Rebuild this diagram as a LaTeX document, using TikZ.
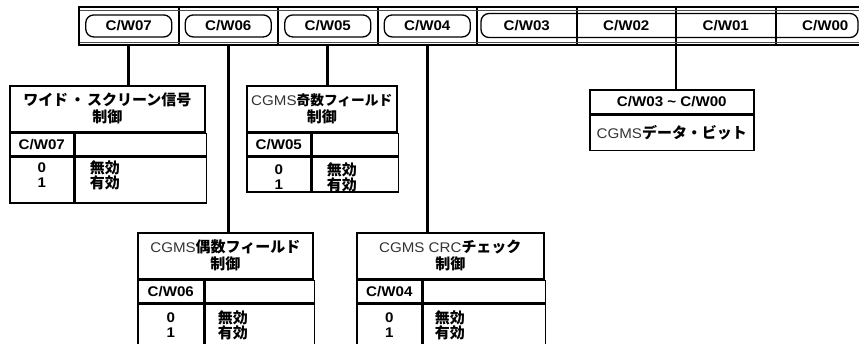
\documentclass[tikz,border=0pt]{standalone}
\usepackage{fontspec}
\setmainfont{Liberation Sans}[FakeStretch=1.08]
\newfontfamily\cjk{Noto Sans CJK JP}[Scale=1.07]
\newfontfamily\cjks{Noto Sans CJK JP}[Scale=0.98]
\usetikzlibrary{positioning,calc}
\newcommand{\jb}[1]{{\cjk\bfseries #1}}
\newcommand{\jbs}[1]{{\cjks\bfseries #1}}
\newcommand{\lr}[1]{{\mdseries\color{black!80}#1}}
\begin{document}
\begin{tikzpicture}[x=1pt,y=1pt,
  base/.style={font=\fontsize{14}{17}\selectfont\bfseries, inner sep=0pt},
  valtext/.style={font=\fontsize{14}{14.5}\selectfont\bfseries, inner sep=0pt},
  cellbox/.style={base, draw, line width=1.6pt, anchor=north west, align=center},
  regcell/.style={base, draw, line width=0.9pt, minimum width=98.6pt, minimum height=37pt, anchor=north west},
  pill/.style={base, draw, line width=1.3pt, rounded corners=8pt, minimum height=22pt},
  conn/.style={line width=2.8pt}]
\useasboundingbox (0,0) rectangle (859,-343);
\clip (0,0) rectangle (859,-343);

% register
\node[regcell] (r7) at (79,-7) {};
\node[regcell] (r6) at (r7.north east) {};
\node[regcell] (r5) at (r6.north east) {};
\node[regcell] (r4) at (r5.north east) {};
\node[regcell] (r3) at (r4.north east) {C/W03};
\node[regcell] (r2) at (r3.north east) {C/W02};
\node[regcell] (r1) at (r2.north east) {C/W01};
\node[regcell] (r0) at (r1.north east) {C/W00};
\draw[line width=0.5pt, black!70] ([yshift=-3pt]r7.north west) -- ([yshift=-3pt]r0.north east);
\draw[line width=0.5pt, black!70] ([yshift=3pt]r7.south west) -- ([yshift=3pt]r0.south east);
\draw[line width=1.7pt] (r7.north west) rectangle (r0.south east);

\node[pill, minimum width=86pt] (p7) at (r7.center) {C/W07};
\node[pill, minimum width=86pt] (p6) at (r6.center) {C/W06};
\node[pill, minimum width=86pt] (p5) at (r5.center) {C/W05};
\node[pill, minimum width=86pt] (p4) at (r4.center) {C/W04};
\node[pill, minimum width=377pt, minimum height=24pt] (p30) at (669.5,-25.5) {};

% box A
\node[cellbox, minimum width=195pt, minimum height=46pt] (aT) at (9,-85) {\jb{ワイド\kern2pt・\kern2pt スクリーン信号}\\\jb{制御}};
\node[cellbox, minimum width=64pt, minimum height=22pt] (aK) at (aT.south west) {C/W07};
\node[cellbox, minimum width=131pt, minimum height=22pt] (aB) at (aK.north east) {};
\node[cellbox, minimum width=64pt, minimum height=46pt] (aL) at (aK.south west) {};
\node[cellbox, minimum width=131pt, minimum height=46pt] (aR) at (aL.north east) {};
\node[valtext, align=center] (a0) at ($(aL.north)+(0,-19)$) {0\\1};
\node[valtext, align=left, anchor=west] (a1) at ($(aR.north west)+(15,-19)$) {\jb{無効}\\\jb{有効}};

% box B
\node[cellbox, minimum width=150pt, minimum height=46pt] (bT) at (246,-85) {\lr{CGMS}\jbs{奇数フィールド}\\\jb{制御}};
\node[cellbox, minimum width=64pt, minimum height=22pt] (bK) at (bT.south west) {C/W05};
\node[cellbox, minimum width=86pt, minimum height=22pt] (bB) at (bK.north east) {};
\node[cellbox, minimum width=64pt, minimum height=35pt] (bL) at (bK.south west) {};
\node[cellbox, minimum width=86pt, minimum height=35pt] (bR) at (bL.north east) {};
\node[valtext, align=center] (b0) at ($(bL.north)+(0,-21)$) {0\\1};
\node[valtext, align=left, anchor=west] (b1) at ($(bR.north west)+(15,-21)$) {\jb{無効}\\\jb{有効}};

% box C
\node[cellbox, minimum width=175pt, minimum height=46pt] (cT) at (137,-232) {\lr{CGMS}\jb{偶数フィールド}\\\jb{制御}};
\node[cellbox, minimum width=66pt, minimum height=22pt] (cK) at (cT.south west) {C/W06};
\node[cellbox, minimum width=109pt, minimum height=22pt] (cB) at (cK.north east) {};
\node[cellbox, minimum width=66pt, minimum height=60pt] (cL) at (cK.south west) {};
\node[cellbox, minimum width=109pt, minimum height=60pt] (cR) at (cL.north east) {};
\node[valtext, align=center] (c0) at ($(cL.north)+(0,-22)$) {0\\1};
\node[valtext, align=left, anchor=west] (c1) at ($(cR.north west)+(13,-22)$) {\jb{無効}\\\jb{有効}};

% box D
\node[cellbox, minimum width=187pt, minimum height=46pt] (dT) at (356,-232) {\lr{CGMS CRC}\jb{チェック}\\\jb{制御}};
\node[cellbox, minimum width=65pt, minimum height=22pt] (dK) at (dT.south west) {C/W04};
\node[cellbox, minimum width=122pt, minimum height=22pt] (dB) at (dK.north east) {};
\node[cellbox, minimum width=65pt, minimum height=60pt] (dL) at (dK.south west) {};
\node[cellbox, minimum width=122pt, minimum height=60pt] (dR) at (dL.north east) {};
\node[valtext, align=center] (d0) at ($(dL.north)+(0,-22)$) {0\\1};
\node[valtext, align=left, anchor=west] (d1) at ($(dR.north west)+(12,-22)$) {\jb{無効}\\\jb{有効}};

% box E
\node[cellbox, minimum width=164pt, minimum height=24pt] (eT) at (589,-89) {C/W03 \textasciitilde{} C/W00};
\node[cellbox, minimum width=164pt, minimum height=35pt] (eB) at (eT.south west) {\lr{CGMS}\jb{データ・ビット}};

% connectors
\draw[conn] (r7.south) -- (r7.south |- aT.north);
\draw[conn] (r6.south) -- (r6.south |- cT.north);
\draw[conn] (r5.south) -- (r5.south |- bT.north);
\draw[conn] (r4.south) -- (r4.south |- dT.north);
\draw[conn] (r2.south east) -- (r2.south east |- eT.north);
\end{tikzpicture}
\end{document}
